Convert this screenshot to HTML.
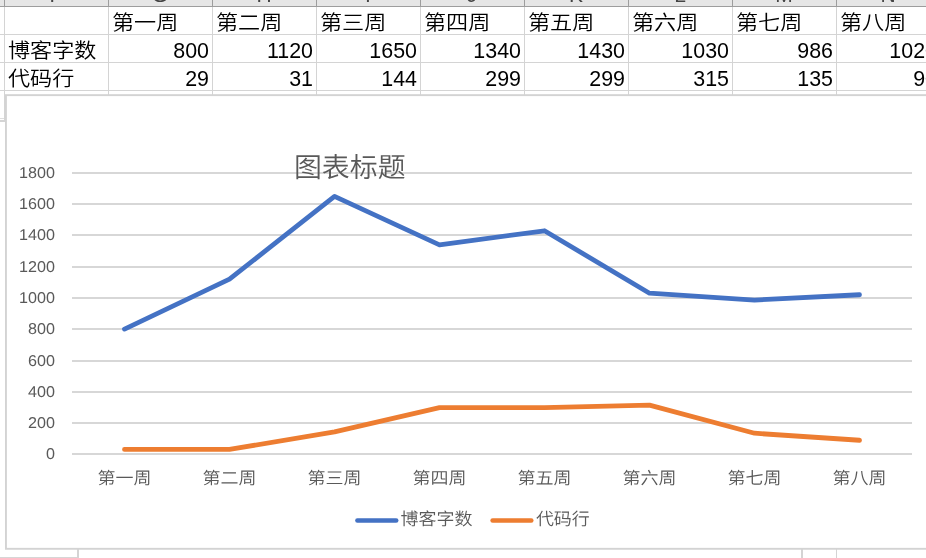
<!DOCTYPE html>
<html lang="zh-CN"><head><meta charset="utf-8"><title>图表</title>
<style>
html,body{margin:0;padding:0;}
body{width:926px;height:558px;overflow:hidden;background:#fff;position:relative;font-family:"Liberation Sans","Noto Sans CJK SC",sans-serif;}
.abs{position:absolute;}
.hdr{position:absolute;left:0;top:0;width:926px;height:6px;background:#e6e6e6;border-bottom:1px solid #9d9d9d;overflow:hidden;}
.hl{position:absolute;top:-19.5px;width:104px;text-align:center;font-size:21px;line-height:28px;color:#444;}
.hs{position:absolute;top:0;width:1px;height:7px;background:#9d9d9d;}
.vg{position:absolute;top:7px;width:1px;height:88px;background:#d4d4d4;}
.hg{position:absolute;left:0;width:926px;height:1px;background:#d4d4d4;}
.cell{position:absolute;height:27px;line-height:27px;font-size:20.4px;font-weight:350;color:#000;white-space:nowrap;transform:scaleX(1.085);transform-origin:0 0;}
.cell.t{font-family:"Liberation Sans","Noto Sans CJK SC",sans-serif;}
.cell.n{font-weight:400;text-align:right;width:99px;font-size:21px;transform:translateY(-0.1px) scale(1.02,1.04);transform-origin:100% 0;}
svg text{text-rendering:geometricPrecision;font-family:"Liberation Sans","Noto Sans CJK SC",sans-serif;fill:#595959;}
</style></head><body>

<div class="hdr">
<div class="hl" style="left:4px">F</div>
<div class="hl" style="left:108px">G</div>
<div class="hl" style="left:212px">H</div>
<div class="hl" style="left:316px">I</div>
<div class="hl" style="left:420px">J</div>
<div class="hl" style="left:524px">K</div>
<div class="hl" style="left:628px">L</div>
<div class="hl" style="left:732px">M</div>
<div class="hl" style="left:836px">N</div>
</div>
<div class="hs" style="left:4px"></div>
<div class="vg" style="left:4px"></div>
<div class="hs" style="left:108px"></div>
<div class="vg" style="left:108px"></div>
<div class="hs" style="left:212px"></div>
<div class="vg" style="left:212px"></div>
<div class="hs" style="left:316px"></div>
<div class="vg" style="left:316px"></div>
<div class="hs" style="left:420px"></div>
<div class="vg" style="left:420px"></div>
<div class="hs" style="left:524px"></div>
<div class="vg" style="left:524px"></div>
<div class="hs" style="left:628px"></div>
<div class="vg" style="left:628px"></div>
<div class="hs" style="left:732px"></div>
<div class="vg" style="left:732px"></div>
<div class="hs" style="left:836px"></div>
<div class="vg" style="left:836px"></div>
<div class="hs" style="left:940px"></div>
<div class="vg" style="left:940px"></div>
<div class="hg" style="top:34px"></div>
<div class="hg" style="top:62px"></div>
<div class="hg" style="top:90px"></div>
<div class="abs" style="left:4px;top:94px;width:1px;height:27px;background:#d4d4d4"></div>
<div class="abs" style="left:0;top:118px;width:4px;height:1px;background:#dedede"></div>
<div class="abs" style="left:0;top:120px;width:5px;height:1.5px;background:#d4d4d4"></div>
<div class="cell t" style="left:111.5px;top:10px">第一周</div>
<div class="cell t" style="left:215.5px;top:10px">第二周</div>
<div class="cell t" style="left:319.5px;top:10px">第三周</div>
<div class="cell t" style="left:423.5px;top:10px">第四周</div>
<div class="cell t" style="left:527.5px;top:10px">第五周</div>
<div class="cell t" style="left:631.5px;top:10px">第六周</div>
<div class="cell t" style="left:735.5px;top:10px">第七周</div>
<div class="cell t" style="left:839.5px;top:10px">第八周</div>
<div class="cell t" style="left:7.6px;top:38px">博客字数</div>
<div class="cell t" style="left:7.6px;top:66px">代码行</div>
<div class="cell n" style="left:110px;top:36px">800</div>
<div class="cell n" style="left:214px;top:36px">1120</div>
<div class="cell n" style="left:318px;top:36px">1650</div>
<div class="cell n" style="left:422px;top:36px">1340</div>
<div class="cell n" style="left:526px;top:36px">1430</div>
<div class="cell n" style="left:630px;top:36px">1030</div>
<div class="cell n" style="left:734px;top:36px">986</div>
<div class="cell n" style="left:838px;top:36px">1020</div>
<div class="cell n" style="left:110px;top:64px">29</div>
<div class="cell n" style="left:214px;top:64px">31</div>
<div class="cell n" style="left:318px;top:64px">144</div>
<div class="cell n" style="left:422px;top:64px">299</div>
<div class="cell n" style="left:526px;top:64px">299</div>
<div class="cell n" style="left:630px;top:64px">315</div>
<div class="cell n" style="left:734px;top:64px">135</div>
<div class="cell n" style="left:838px;top:64px">90</div>
<div class="abs" style="left:0;top:557px;width:78px;height:1px;background:#d6d6d6"></div>
<div class="abs" style="left:77px;top:549px;width:2px;height:9px;background:#d4d4d4"></div>
<div class="abs" style="left:801px;top:549px;width:2px;height:9px;background:#d4d4d4"></div>
<div class="abs" style="left:836px;top:549px;width:1px;height:9px;background:#d4d4d4"></div>
<svg class="abs" style="left:0;top:0" width="926" height="558" viewBox="0 0 926 558">
<rect x="5.95" y="95.15" width="940" height="453.65" fill="#fff" stroke="#d3d3d3" stroke-width="1.9"/>
<rect x="72" y="453" width="840" height="2" fill="#d7d7d7"/>
<text transform="translate(54.90 459.10) scale(1.03 1)" text-anchor="end" font-size="15.7">0</text>
<rect x="72" y="422" width="840" height="2" fill="#d7d7d7"/>
<text transform="translate(54.90 428.10) scale(1.03 1)" text-anchor="end" font-size="15.7">200</text>
<rect x="72" y="391" width="840" height="2" fill="#d7d7d7"/>
<text transform="translate(54.90 397.10) scale(1.03 1)" text-anchor="end" font-size="15.7">400</text>
<rect x="72" y="360" width="840" height="2" fill="#d7d7d7"/>
<text transform="translate(54.90 366.10) scale(1.03 1)" text-anchor="end" font-size="15.7">600</text>
<rect x="72" y="328" width="840" height="2" fill="#d7d7d7"/>
<text transform="translate(54.90 334.10) scale(1.03 1)" text-anchor="end" font-size="15.7">800</text>
<rect x="72" y="297" width="840" height="2" fill="#d7d7d7"/>
<text transform="translate(54.90 303.10) scale(1.03 1)" text-anchor="end" font-size="15.7">1000</text>
<rect x="72" y="266" width="840" height="2" fill="#d7d7d7"/>
<text transform="translate(54.90 272.10) scale(1.03 1)" text-anchor="end" font-size="15.7">1200</text>
<rect x="72" y="234" width="840" height="2" fill="#d7d7d7"/>
<text transform="translate(54.90 240.10) scale(1.03 1)" text-anchor="end" font-size="15.7">1400</text>
<rect x="72" y="203" width="840" height="2" fill="#d7d7d7"/>
<text transform="translate(54.90 209.10) scale(1.03 1)" text-anchor="end" font-size="15.7">1600</text>
<rect x="72" y="172" width="840" height="2" fill="#d7d7d7"/>
<text transform="translate(54.90 178.10) scale(1.03 1)" text-anchor="end" font-size="15.7">1800</text>
<text transform="translate(124.50 484.20) scale(1.06 1)" text-anchor="middle" font-size="17" font-weight="350">第一周</text>
<text transform="translate(229.50 484.20) scale(1.06 1)" text-anchor="middle" font-size="17" font-weight="350">第二周</text>
<text transform="translate(334.50 484.20) scale(1.06 1)" text-anchor="middle" font-size="17" font-weight="350">第三周</text>
<text transform="translate(439.50 484.20) scale(1.06 1)" text-anchor="middle" font-size="17" font-weight="350">第四周</text>
<text transform="translate(544.50 484.20) scale(1.06 1)" text-anchor="middle" font-size="17" font-weight="350">第五周</text>
<text transform="translate(649.50 484.20) scale(1.06 1)" text-anchor="middle" font-size="17" font-weight="350">第六周</text>
<text transform="translate(754.50 484.20) scale(1.06 1)" text-anchor="middle" font-size="17" font-weight="350">第七周</text>
<text transform="translate(859.50 484.20) scale(1.06 1)" text-anchor="middle" font-size="17" font-weight="350">第八周</text>
<text transform="translate(293.90 176.50) scale(1.02 1)" text-anchor="start" font-size="27.4" font-weight="350">图表标题</text>
<polyline points="124.50,329.11 229.50,279.16 334.50,196.42 439.50,244.81 544.50,230.76 649.50,293.21 754.50,300.08 859.50,294.77" fill="none" stroke="#4472c4" stroke-width="4.8" stroke-linecap="round" stroke-linejoin="round"/>
<polyline points="124.50,449.47 229.50,449.46 334.50,431.82 439.50,407.62 544.50,407.62 649.50,405.13 754.50,433.23 859.50,440.25" fill="none" stroke="#ed7d31" stroke-width="4.8" stroke-linecap="round" stroke-linejoin="round"/>
<line x1="357.4" x2="396.2" y1="520.4" y2="520.4" stroke="#4472c4" stroke-width="4.5" stroke-linecap="round"/>
<text transform="translate(400.60 524.60) scale(1.04 1)" text-anchor="start" font-size="17.3" font-weight="350">博客字数</text>
<line x1="492.6" x2="531.3" y1="520.4" y2="520.4" stroke="#ed7d31" stroke-width="4.5" stroke-linecap="round"/>
<text transform="translate(535.90 524.60) scale(1.04 1)" text-anchor="start" font-size="17.3" font-weight="350">代码行</text>
</svg>
</body></html>
